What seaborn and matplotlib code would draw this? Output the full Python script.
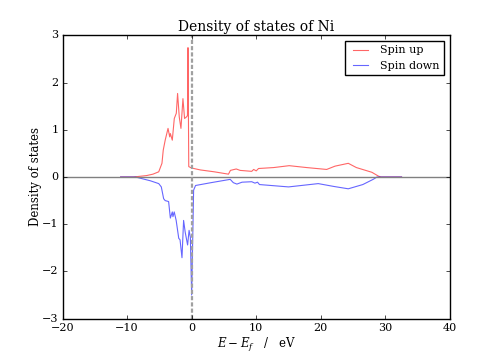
import seaborn as sns
import pandas as pd
import matplotlib
matplotlib.use('Agg')
import matplotlib.pyplot as plt

# energies (eV, relative to Fermi level) and DOS
energy_up = [-11.0, -9.0, -7.0, -6.0, -5.1, -4.6, -4.4, -4.1, -3.66, -3.4, -3.3, -3.0, -2.69,
             -2.38, -2.18, -1.92, -1.66, -1.35, -1.10, -0.83, -0.65, -0.57, -0.45, 0.0, 1.33,
             3.5, 5.7, 6.0, 6.9, 7.5, 9.3, 9.6, 10.0, 10.35, 12.7, 15.1, 17.8, 20.9, 22.2,
             24.25, 25.5, 27.9, 28.9, 29.3, 32.5]
dos_up = [0.0, 0.0, 0.03, 0.06, 0.11, 0.29, 0.57, 0.78, 1.03, 0.85, 0.92, 0.78, 1.24,
          1.35, 1.77, 1.27, 1.03, 1.66, 1.24, 1.27, 1.3, 2.74, 0.22, 0.19, 0.15,
          0.11, 0.06, 0.14, 0.17, 0.14, 0.12, 0.16, 0.13, 0.18, 0.2, 0.24, 0.2, 0.16, 0.23,
          0.29, 0.2, 0.1, 0.02, 0.0, 0.0]

energy_down = [-11.0, -8.7, -6.4, -5.1, -4.7, -4.34, -4.1, -3.57, -3.3, -3.0, -2.9, -2.7,
               -2.4, -2.0, -1.8, -1.5, -1.25, -1.0, -0.63, -0.4, -0.2, 0.0, 0.3, 0.6, 3.0,
               5.97, 6.45, 7.0, 7.8, 9.3, 9.8, 10.2, 10.5, 15.0, 19.6, 22.0, 24.25, 26.5,
               28.1, 28.7, 29.2, 32.5]
dos_down = [0.0, 0.0, -0.08, -0.14, -0.21, -0.46, -0.5, -0.52, -0.87, -0.74, -0.84, -0.74,
            -0.92, -1.30, -1.33, -1.71, -0.92, -1.17, -1.44, -1.13, -1.28, -2.5, -0.28, -0.18,
            -0.12, -0.05, -0.12, -0.15, -0.11, -0.10, -0.13, -0.11, -0.16, -0.21, -0.14, -0.2,
            -0.25, -0.16, -0.05, 0.0, 0.0, 0.0]

up = pd.DataFrame({'E': energy_up, 'dos': dos_up})
down = pd.DataFrame({'E': energy_down, 'dos': dos_down})

plt.style.use('classic')
plt.rcParams['font.family'] = 'serif'
plt.rcParams['font.serif'] = ['DejaVu Serif']
plt.rcParams['mathtext.fontset'] = 'dejavuserif'
plt.rcParams['font.size'] = 8
plt.rcParams['xtick.labelsize'] = 8
plt.rcParams['ytick.labelsize'] = 8
plt.rcParams['xtick.major.size'] = 3
plt.rcParams['ytick.major.size'] = 3
plt.rcParams['xtick.major.pad'] = 3
plt.rcParams['ytick.major.pad'] = 3

fig, ax = plt.subplots(figsize=(5, 3.54), dpi=100)

# spin up / spin down
sns.lineplot(x='E', y='dos', data=up, ax=ax, color='red', alpha=0.6, lw=0.8, sort=False, label='Spin up')
sns.lineplot(x='E', y='dos', data=down, ax=ax, color='blue', alpha=0.6, lw=0.8, sort=False, label='Spin down')

# reference lines
ax.axhline(0, color='gray', lw=1)
ax.axvline(0, color='#a0a0a0', lw=1.6, ls=(0, (3, 1.5)))

ax.set_xlim(-20, 40)
ax.set_ylim(-3, 3)
ax.set_xlabel(r'$E-E_f$   /   eV', fontsize=8.5, labelpad=2)
ax.set_ylabel('Density of states', fontsize=8.5, labelpad=0)
ax.set_title('Density of states of Ni', fontsize=10, pad=3)
ax.legend(loc='upper right', fontsize=8)

fig.subplots_adjust(left=0.125, right=0.9, bottom=0.1, top=0.9)
fig.savefig('out.png', dpi=100)
